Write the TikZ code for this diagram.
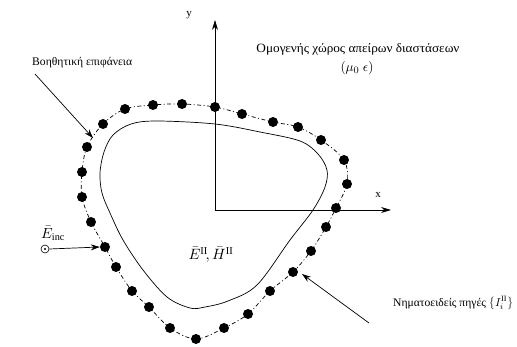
\documentclass[tikz,border=0pt]{standalone}
\usepackage{fontspec}
\setmainfont{Liberation Serif}
\usetikzlibrary{arrows.meta}
\begin{document}
\begin{tikzpicture}[x=1pt,y=-1pt,
  src/.style={circle,fill=black,inner sep=0pt,minimum size=10pt},
  lbl/.style={inner sep=0pt,font=\fontsize{11}{13}\selectfont},
  arr/.style={-{Stealth[length=9pt,width=6pt]},line width=0.7pt},
  axis/.style={-{Stealth[length=10pt,width=6pt]},line width=0.7pt},
  body/.style={line width=0.7pt},
  aux/.style={line width=0.7pt,dash pattern=on 4pt off 2.5pt on 1pt off 2.5pt}]
\useasboundingbox (0,0) rectangle (517,347);
% auxiliary surface through the sources
\draw[aux] plot[smooth cycle,tension=0.55] coordinates {
 (215,107) (242,114) (273,122) (298,127) (321,140) (344,160) (347,184)
 (336,208) (326,227) (311,251) (293,272) (270,291) (248,314) (224,328)
 (196,339) (170,328) (149,307) (132,291) (116,267) (105,247) (91,222)
 (82,197) (82,172) (87,147) (103,124) (125,109) (153,105) (182,104)};
% scatterer body
\draw[body] plot[smooth cycle,tension=0.55] coordinates {
 (157,121) (215,124) (260,132) (300,141) (318,154) (327,170) (325,187)
 (313,210) (290,240) (257,285) (228,301) (205,307) (190,308) (167,297)
 (143,270) (123,240) (110,213) (102,193) (100,173) (104,152) (113,135) (131,124)};
% axes
\coordinate (O) at (215,210);
\coordinate (ytip) at (215,20);
\coordinate (xtip) at (391,210);
\draw[axis] (O) -- (ytip);
\draw[axis] (O) -- (xtip);
\node[lbl] (ylab) at (189,15) {y};
\node[lbl] (xlab) at (378,195) {x};
% sources
\foreach \i/\p in {1/{215,107},2/{242,114},3/{273,122},4/{298,127},5/{321,140},6/{344,160},7/{347,184},
 8/{336,208},9/{326,227},10/{311,251},11/{293,272},12/{270,291},13/{248,314},14/{224,328},
 15/{196,339},16/{170,328},17/{149,307},18/{132,291},19/{116,267},20/{105,247},21/{91,222},
 22/{82,197},23/{82,172},24/{87,147},25/{103,124},26/{125,109},27/{153,105},28/{182,104}}
  \node[src] (d\i) at (\p) {};
% labels
\node[lbl,anchor=west] (aux) at (32,63) {\resizebox{100pt}{1.05\height}{Βοηθητική επιφάνεια}};
\coordinate (auxtail) at (35,74);
\coordinate (auxtip) at (93,138);
\draw[arr] (auxtail) -- (auxtip);
\node[lbl] (space) at (358,49) {\resizebox{203pt}{1.15\height}{Ομογενής χώρος απείρων διαστάσεων}};
\node[lbl] (mat) at (357,68) {\resizebox{33pt}{!}{$(\mu_0\ \epsilon)$}};
\node[lbl] (fields) at (211,255) {\resizebox{45pt}{!}{$\bar{E}^{\mathrm{II}}\!,\bar{H}^{\mathrm{II}}$}};
\node[lbl,anchor=west] (srclab) at (393,303) {\resizebox{120pt}{1.05\height}{Νηματοειδείς πηγές $\left\{I_{i}^{\mathrm{II}}\right\}$}};
\coordinate (srctail) at (369,323);
\coordinate (srctip) at (302,274);
\draw[arr] (srctail) -- (srctip);
% incident field
\node[circle,draw,line width=0.6pt,inner sep=0pt,minimum size=8pt] (inc) at (45,249) {};
\fill (inc.center) circle (1.1pt);
\node[lbl,anchor=south west] (inclab) at (41,241) {\resizebox{24pt}{!}{$\bar{E}_{\mathrm{inc}}$}};
\draw[arr] (inc.east) -- (d20.west);
\end{tikzpicture}
\end{document}
